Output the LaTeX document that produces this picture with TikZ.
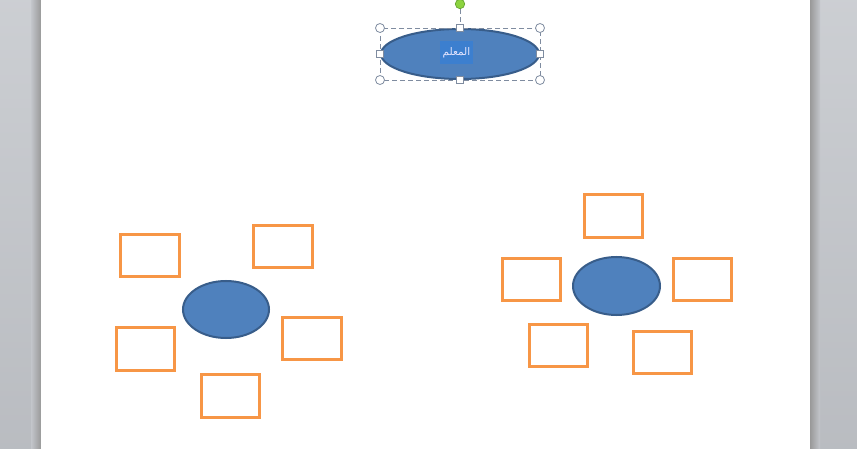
\documentclass[tikz,border=0pt]{standalone}
\usepackage{fontspec}
\usepackage{tikz}
\usetikzlibrary{positioning}
\usetikzlibrary{shapes.geometric}
\usepackage{xcolor}
\newfontfamily\arabicfont[Script=Arabic]{DejaVu Sans}
\TeXXeTstate=1

\definecolor{topicfill}{HTML}{4F81BD}
\definecolor{topicline}{HTML}{385D8A}
\definecolor{cellline}{HTML}{F79646}
\definecolor{marktext}{HTML}{3C7FCF}
\definecolor{handleline}{HTML}{7F8CA0}
\definecolor{turnfill}{HTML}{8CD33F}
\definecolor{turnline}{HTML}{5E9F2A}
\definecolor{deskgray}{HTML}{C3C6CB}

\begin{document}
\begin{tikzpicture}[x=1pt, y=-1pt,
  topic/.style={ellipse, draw=topicline, fill=topicfill, line width=2pt, inner sep=0pt},
  cell/.style={rectangle, draw=cellline, line width=2.6pt, minimum width=58.5pt, minimum height=42.5pt, inner sep=0pt},
  cornerhandle/.style={circle, draw=handleline, fill=white, line width=0.8pt, minimum size=9pt, inner sep=0pt},
  sidehandle/.style={rectangle, draw=handleline, fill=white, line width=0.8pt, minimum size=7pt, inner sep=0pt},
  selframe/.style={draw=handleline, dash pattern=on 5pt off 3pt, line width=0.9pt}]

\useasboundingbox (0,0) rectangle (857,449);

% Page
\shade[top color=deskgray!85!white, bottom color=deskgray!95!black] (0,0) rectangle (857,449);
\shade[left color=deskgray, right color=black!40] (31,0) rectangle (41,449);
\shade[left color=black!40, right color=deskgray] (810,0) rectangle (820,449);
\fill[white] (41,0) rectangle (810,449);

% Nodes
\node[topic, minimum width=158pt, minimum height=50pt] (teacher) at (460,54) {};
\node[fill=marktext, text=blue!10!white, minimum width=33pt, minimum height=23pt, inner sep=0pt,
      font=\fontsize{10.5}{12}\selectfont] (teachertext) at (456.5,52.5) {\arabicfont\beginR المعلم\endR};

\node[topic, minimum width=86pt, minimum height=57pt] (hubleft) at (226,309.5) {};
\node[cell] (leftA) at (150,255.5) {};
\node[cell] (leftB) at (283,246.5) {};
\node[cell] (leftC) at (145.5,349) {};
\node[cell] (leftD) at (312,338.5) {};
\node[cell] (leftE) at (230.5,396) {};

\node[topic, minimum width=87pt, minimum height=58pt] (hubright) at (616.5,286) {};
\node[cell] (rightA) at (613.5,216) {};
\node[cell] (rightB) at (531.5,279.5) {};
\node[cell] (rightC) at (702.5,279.5) {};
\node[cell] (rightD) at (558.5,345.5) {};
\node[cell] (rightE) at (662.5,352.5) {};

% Selection
\draw[selframe] (380,28) rectangle (540,80);
\node[sidehandle] (htop) at (460,28) {};
\node[circle, draw=turnline, fill=turnfill, line width=0.6pt, minimum size=9.5pt, inner sep=0pt] (hturn) at (460,4) {};
\draw[selframe] (hturn) -- (htop);
\node[cornerhandle] (hnw) at (380,28) {};
\node[cornerhandle] (hne) at (540,28) {};
\node[cornerhandle] (hsw) at (380,80) {};
\node[cornerhandle] (hse) at (540,80) {};
\node[sidehandle] (hbottom) at (460,80) {};
\node[sidehandle] (hleft) at (380,54) {};
\node[sidehandle] (hright) at (540,54) {};

\end{tikzpicture}
\end{document}
